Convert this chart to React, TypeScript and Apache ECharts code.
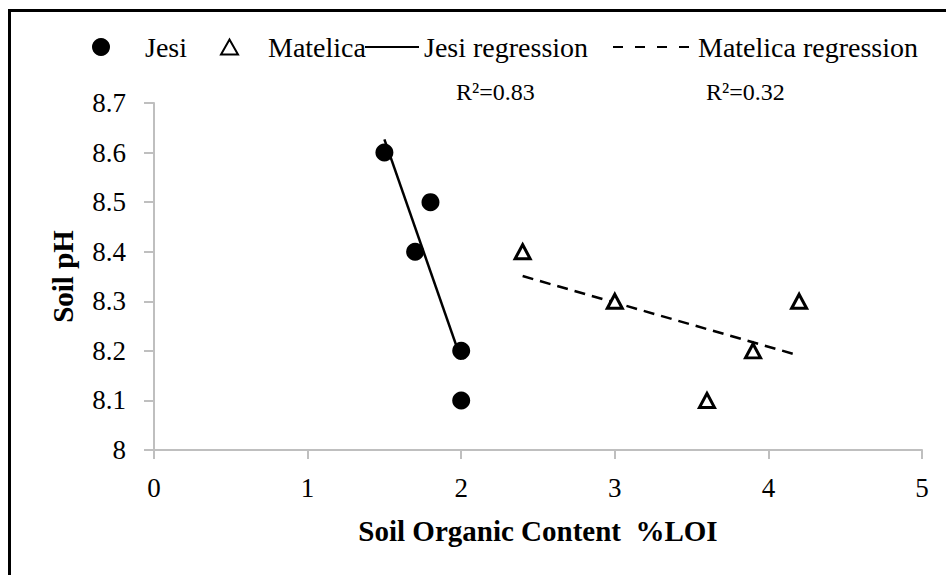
import React, { useEffect, useRef } from "react";
import * as echarts from "echarts";

const jesiX = [1.5, 1.8, 1.7, 2.0, 2.0];
const jesiY = [8.6, 8.5, 8.4, 8.2, 8.1];
const matX = [2.4, 3.0, 3.6, 3.9, 4.2];
const matY = [8.4, 8.3, 8.1, 8.2, 8.3];
const r2Labels = ["R²=0.83", "R²=0.32"];
const seriesNames = ["Jesi", "Matelica", "Jesi regression", "Matelica regression"];
const xTitle = "Soil Organic Content  %LOI";
const yTitle = "Soil pH";

function fitLine(xs: number[], ys: number[]) {
  const n = xs.length;
  const mx = xs.reduce((a, b) => a + b, 0) / n;
  const my = ys.reduce((a, b) => a + b, 0) / n;
  let sxy = 0, sxx = 0;
  for (let i = 0; i < n; i++) {
    sxy += (xs[i] - mx) * (ys[i] - my);
    sxx += (xs[i] - mx) * (xs[i] - mx);
  }
  const b = sxy / sxx;
  const a = my - b * mx;
  const x0 = Math.min(...xs);
  const x1 = Math.max(...xs);
  return [[x0, a + b * x0], [x1, a + b * x1]];
}

const FONT = "Liberation Serif";
const LEG_TOP = 33;
const legendText = (padLeft: number) => ({
  fontFamily: FONT,
  fontSize: 28,
  color: "#000",
  padding: [0, 0, 0, padLeft],
});
const hiddenSymbol = { color: "rgba(0,0,0,0)", borderColor: "rgba(0,0,0,0)", borderWidth: 0 };

export default function App() {
  const ref = useRef<HTMLDivElement>(null);
  useEffect(() => {
    if (!ref.current) return;
    const chart = echarts.init(ref.current, null, { renderer: "svg" });
    const axisGray = "#bfbfbf";
    chart.setOption({
      animation: false,
      backgroundColor: "#fff",
      textStyle: { fontFamily: FONT, color: "#000" },
      grid: { left: 154, right: 24, top: 103, bottom: 125 },
      legend: [
        {
          left: 92, top: LEG_TOP, padding: 0,
          itemWidth: 18, itemHeight: 18,
          data: [seriesNames[0]], textStyle: legendText(30),
        },
        {
          left: 220, top: LEG_TOP, padding: 0,
          itemWidth: 17, itemHeight: 15,
          data: [seriesNames[1]], textStyle: legendText(25),
        },
        {
          left: 364, top: LEG_TOP, padding: 0,
          itemWidth: 54, itemHeight: 14,
          data: [seriesNames[2]], textStyle: legendText(0),
          itemStyle: hiddenSymbol,
          lineStyle: { width: 2 },
        },
        {
          left: 612, top: LEG_TOP, padding: 0,
          itemWidth: 76, itemHeight: 14,
          data: [seriesNames[3]], textStyle: legendText(4),
          itemStyle: hiddenSymbol,
          lineStyle: { width: 2, type: [10, 12] },
        },
      ],
      xAxis: {
        type: "value",
        min: 0,
        max: 5,
        interval: 1,
        name: xTitle,
        nameLocation: "middle",
        nameGap: 66,
        nameMoveOverlap: false,
        nameTextStyle: { fontFamily: FONT, fontSize: 29, fontWeight: "bold", color: "#000" },
        axisLine: { lineStyle: { color: axisGray, width: 2 } },
        axisTick: { show: true, length: 9, lineStyle: { color: axisGray, width: 2 } },
        axisLabel: { fontFamily: FONT, fontSize: 27, color: "#000", margin: 24 },
        splitLine: { show: false },
      },
      yAxis: {
        type: "value",
        min: 8,
        max: 8.7,
        interval: 0.1,
        name: yTitle,
        nameLocation: "middle",
        nameGap: 77,
        nameMoveOverlap: false,
        nameTextStyle: { fontFamily: FONT, fontSize: 29, fontWeight: "bold", color: "#000" },
        axisLine: { show: true, lineStyle: { color: axisGray, width: 2 } },
        axisTick: { show: true, length: 10, lineStyle: { color: axisGray, width: 2 } },
        axisLabel: {
          fontFamily: FONT,
          fontSize: 27,
          color: "#000",
          margin: 28,
          formatter: (v: number) => String(Number(v.toFixed(1))),
        },
        splitLine: { show: false },
      },
      series: [
        {
          name: seriesNames[0],
          type: "scatter",
          symbol: "circle",
          symbolSize: 18,
          itemStyle: { color: "#000", opacity: 1 },
          data: jesiX.map((x, i) => [x, jesiY[i]]),
          z: 3,
        },
        {
          name: seriesNames[1],
          type: "scatter",
          symbol: "triangle",
          symbolSize: [15, 14],
          itemStyle: { color: "#fff", borderColor: "#000", borderWidth: 3, opacity: 1 },
          data: matX.map((x, i) => [x, matY[i]]),
          z: 3,
        },
        {
          name: seriesNames[2],
          type: "line",
          symbol: "none",
          lineStyle: { color: "#000", width: 2.5, type: "solid" },
          itemStyle: { color: "#000" },
          data: fitLine(jesiX, jesiY),
          z: 2,
        },
        {
          name: seriesNames[3],
          type: "line",
          symbol: "none",
          lineStyle: { color: "#000", width: 2.5, type: [11, 7] },
          itemStyle: { color: "#000" },
          data: fitLine(matX, matY),
          z: 2,
        },
      ],
      graphic: [
        {
          type: "rect",
          shape: { x: 9.5, y: 10.5, width: 1000, height: 1000 },
          style: { fill: "none", stroke: "#000", lineWidth: 3 },
          silent: true,
        },
        {
          type: "text",
          left: 456,
          top: 80,
          style: { text: r2Labels[0], font: `24px ${FONT}`, fill: "#000" },
        },
        {
          type: "text",
          left: 706,
          top: 80,
          style: { text: r2Labels[1], font: `24px ${FONT}`, fill: "#000" },
        },
      ],
    });
    return () => chart.dispose();
  }, []);
  return (
    <div
      ref={ref}
      style={{ position: "absolute", left: 0, top: 0, width: 946, height: 575 }}
    />
  );
}
